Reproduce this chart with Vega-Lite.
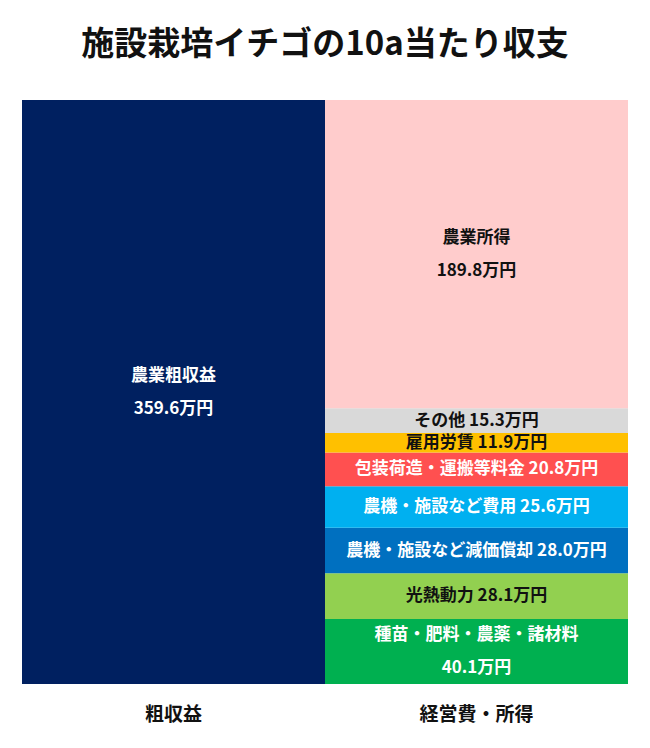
{
  "$schema": "https://vega.github.io/schema/vega-lite/v6.json",
  "description": "施設栽培イチゴの10a当たり収支",
  "autosize": {"type": "none"},
  "width": 606,
  "height": 584,
  "padding": {"left": 22, "right": 22, "top": 100, "bottom": 64},
  "background": "white",
  "title": {
    "text": "施設栽培イチゴの10a当たり収支",
    "font": "Noto Sans CJK JP",
    "fontSize": 33,
    "fontWeight": "bold",
    "color": "#111111",
    "anchor": "middle",
    "baseline": "bottom",
    "offset": 5
  },
  "data": {
    "values": [
      {"group": "粗収益", "item": "農業粗収益", "value": 359.6, "rank": 1, "label": "農業粗収益\n359.6万円"},
      {"group": "経営費・所得", "item": "種苗・肥料・農薬・諸材料", "value": 40.1, "rank": 1, "label": "種苗・肥料・農薬・諸材料\n40.1万円"},
      {"group": "経営費・所得", "item": "光熱動力", "value": 28.1, "rank": 2, "label": "光熱動力 28.1万円"},
      {"group": "経営費・所得", "item": "農機・施設など減価償却", "value": 28.0, "rank": 3, "label": "農機・施設など減価償却 28.0万円"},
      {"group": "経営費・所得", "item": "農機・施設など費用", "value": 25.6, "rank": 4, "label": "農機・施設など費用 25.6万円"},
      {"group": "経営費・所得", "item": "包装荷造・運搬等料金", "value": 20.8, "rank": 5, "label": "包装荷造・運搬等料金 20.8万円"},
      {"group": "経営費・所得", "item": "雇用労賃", "value": 11.9, "rank": 6, "label": "雇用労賃 11.9万円"},
      {"group": "経営費・所得", "item": "その他", "value": 15.3, "rank": 7, "label": "その他 15.3万円"},
      {"group": "経営費・所得", "item": "農業所得", "value": 189.8, "rank": 8, "label": "農業所得\n189.8万円"}
    ]
  },
  "transform": [
    {"stack": "value", "groupby": ["group"], "sort": [{"field": "rank", "order": "ascending"}], "as": ["v0", "v1"]},
    {"calculate": "(datum.v0 + datum.v1) / 2", "as": "mid"}
  ],
  "encoding": {
    "x": {
      "field": "group",
      "type": "nominal",
      "sort": ["粗収益", "経営費・所得"],
      "title": null,
      "scale": {"paddingInner": 0, "paddingOuter": 0},
      "axis": {
        "orient": "bottom",
        "domain": false,
        "ticks": false,
        "labelAngle": 0,
        "labelFont": "Noto Sans CJK JP",
        "labelFontSize": 19,
        "labelFontWeight": "bold",
        "labelColor": "#111111",
        "labelPadding": 21
      }
    }
  },
  "layer": [
    {
      "mark": {"type": "bar", "stroke": null},
      "encoding": {
        "y": {"field": "v1", "type": "quantitative", "scale": {"domain": [0, 359.6], "nice": false}, "axis": null},
        "y2": {"field": "v0"},
        "color": {
          "field": "item",
          "type": "nominal",
          "legend": null,
          "scale": {
            "domain": ["農業粗収益", "種苗・肥料・農薬・諸材料", "光熱動力", "農機・施設など減価償却", "農機・施設など費用", "包装荷造・運搬等料金", "雇用労賃", "その他", "農業所得"],
            "range": ["#002060", "#00B050", "#92D050", "#0070C0", "#00B0F0", "#FF5050", "#FFC000", "#D9D9D9", "#FFCCCC"]
          }
        }
      }
    },
    {
      "transform": [{"filter": "indexof(datum.label, '\\n') < 0"}],
      "mark": {
        "type": "text",
        "font": "Noto Sans CJK JP",
        "fontSize": 17,
        "fontWeight": "bold",
        "align": "center",
        "baseline": "middle"
      },
      "encoding": {
        "y": {"field": "mid", "type": "quantitative"},
        "text": {"field": "label"},
        "color": {
          "condition": {"test": "indexof(['農業所得', 'その他', '雇用労賃', '光熱動力'], datum.item) >= 0", "value": "#111111"},
          "value": "#ffffff"
        }
      }
    },
    {
      "transform": [{"filter": "indexof(datum.label, '\\n') >= 0"}],
      "mark": {
        "type": "text",
        "font": "Noto Sans CJK JP",
        "fontSize": 17,
        "fontWeight": "bold",
        "lineBreak": "\n",
        "lineHeight": 33,
        "align": "center",
        "baseline": "middle",
        "dy": -16.5
      },
      "encoding": {
        "y": {"field": "mid", "type": "quantitative"},
        "text": {"field": "label"},
        "color": {
          "condition": {"test": "indexof(['農業所得', 'その他', '雇用労賃', '光熱動力'], datum.item) >= 0", "value": "#111111"},
          "value": "#ffffff"
        }
      }
    }
  ],
  "config": {"view": {"stroke": null}, "axis": {"grid": false}}
}
